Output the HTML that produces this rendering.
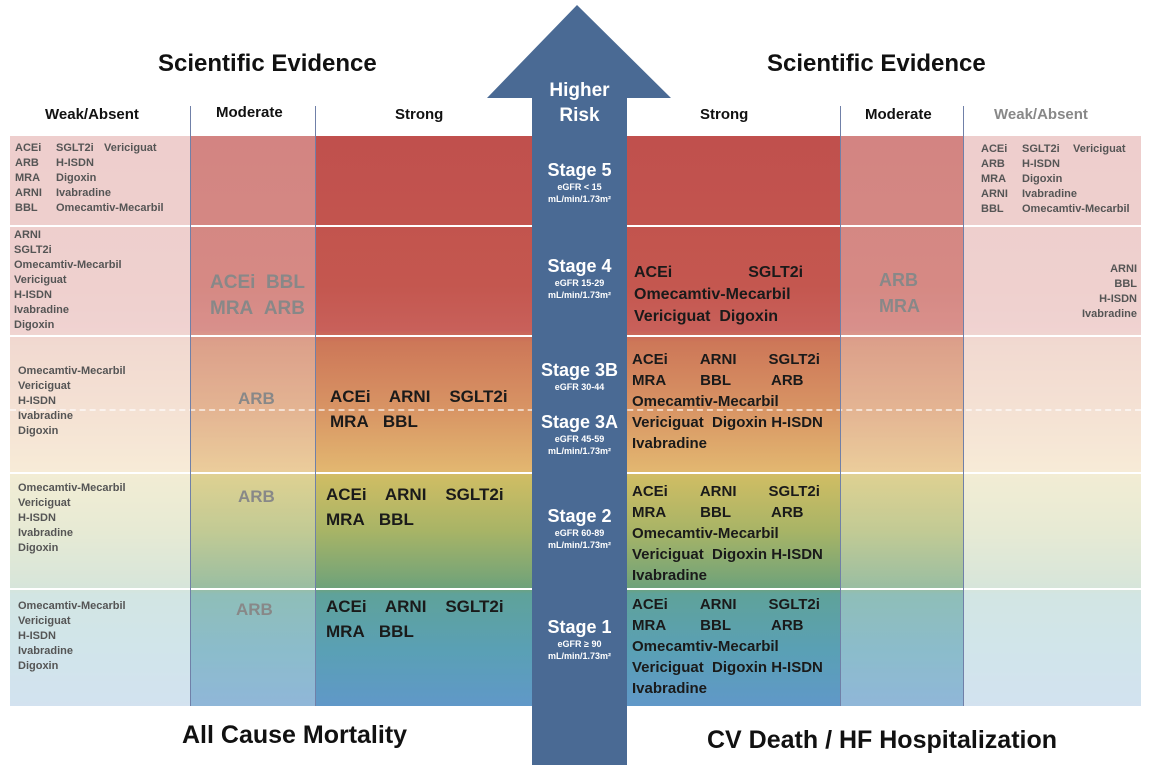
<!DOCTYPE html>
<html><head><meta charset="utf-8"><style>
body{margin:0;width:1154px;height:765px;background:#fff;position:relative;overflow:hidden;font-family:"Liberation Sans",sans-serif;font-weight:bold}
.a{position:absolute}
.grad{position:absolute;top:136px;height:570px;background:linear-gradient(to bottom,#c0504d 0px,#c4574f 150px,#c8605a 194px,#cd7758 206px,#d89464 273px,#e2b670 334px,#cfbd64 340px,#a8b466 395px,#6ea27a 452px,#5fa29a 458px,#5aa0b5 515px,#6098c8 570px)}
.w{position:absolute;top:136px;height:570px;background:#fff}
.sep{position:absolute;height:2px;background:#fff;left:0;width:1154px}
.vl{position:absolute;top:106px;height:600px;width:1px;background:#7080a8}
.t{position:absolute;white-space:nowrap}
.wk{font-size:11px;color:#555;line-height:15px}
.st{font-size:17px;color:#1a1a1a;line-height:25px}
.md{font-size:19px;color:#888;line-height:26px}
.hd{font-size:15px;color:#111}
.sg{position:absolute;left:532px;width:95px;text-align:center;color:#fff}
.sg b{display:block;font-size:18px}
.sg i{display:block;font-style:normal;font-size:9px;line-height:12px}
</style></head><body>
<div class="grad" style="left:10px;width:522px"></div>
<div class="grad" style="left:627px;width:514px"></div>
<div class="w" style="left:10px;width:180px;opacity:.72"></div>
<div class="w" style="left:190px;width:125px;opacity:.3"></div>
<div class="w" style="left:840px;width:123px;opacity:.3"></div>
<div class="w" style="left:963px;width:178px;opacity:.72"></div>
<div class="sep" style="top:225px"></div>
<div class="sep" style="top:335px"></div>
<div class="sep" style="top:472px"></div>
<div class="sep" style="top:588px"></div>
<div class="a" style="left:10px;top:409px;width:1131px;border-top:2px dashed rgba(255,255,255,.6)"></div>
<div class="vl" style="left:190px"></div><div class="vl" style="left:315px"></div>
<div class="vl" style="left:840px"></div><div class="vl" style="left:963px"></div>
<svg class="a" style="left:0;top:0" width="1154" height="765"><polygon points="577,5 671,98 627,98 627,765 532,765 532,98 487,98" fill="#4a6a94"/></svg>
<div class="t" style="left:158px;top:50px;font-size:24px;color:#111">Scientific Evidence</div>
<div class="t" style="left:767px;top:50px;font-size:24px;color:#111">Scientific Evidence</div>
<div class="t hd" style="left:45px;top:106px">Weak/Absent</div>
<div class="t hd" style="left:216px;top:104px">Moderate</div>
<div class="t hd" style="left:395px;top:106px">Strong</div>
<div class="t hd" style="left:700px;top:106px">Strong</div>
<div class="t hd" style="left:865px;top:106px">Moderate</div>
<div class="t hd" style="left:994px;top:106px;color:#888">Weak/Absent</div>
<div class="sg" style="top:78px;font-size:19px;line-height:25px">Higher<br>Risk</div>
<div class="sg" style="top:160px"><b>Stage 5</b><i>eGFR &lt; 15<br>mL/min/1.73m²</i></div>
<div class="sg" style="top:256px"><b>Stage 4</b><i>eGFR 15-29<br>mL/min/1.73m²</i></div>
<div class="sg" style="top:360px"><b>Stage 3B</b><i>eGFR 30-44</i></div>
<div class="sg" style="top:412px"><b>Stage 3A</b><i>eGFR 45-59<br>mL/min/1.73m²</i></div>
<div class="sg" style="top:506px"><b>Stage 2</b><i>eGFR 60-89<br>mL/min/1.73m²</i></div>
<div class="sg" style="top:617px"><b>Stage 1</b><i>eGFR ≥ 90<br>mL/min/1.73m²</i></div>
<div class="t wk" style="left:15px;top:141px">ACEi<br>ARB<br>MRA<br>ARNI<br>BBL</div>
<div class="t wk" style="left:56px;top:141px">SGLT2i<br>H-ISDN<br>Digoxin<br>Ivabradine<br>Omecamtiv-Mecarbil</div>
<div class="t wk" style="left:104px;top:141px">Vericiguat</div>
<div class="t wk" style="left:14px;top:228px">ARNI<br>SGLT2i<br>Omecamtiv-Mecarbil<br>Vericiguat<br>H-ISDN<br>Ivabradine<br>Digoxin</div>
<div class="t wk" style="left:18px;top:364px">Omecamtiv-Mecarbil<br>Vericiguat<br>H-ISDN<br>Ivabradine<br>Digoxin</div>
<div class="t wk" style="left:18px;top:481px">Omecamtiv-Mecarbil<br>Vericiguat<br>H-ISDN<br>Ivabradine<br>Digoxin</div>
<div class="t wk" style="left:18px;top:599px">Omecamtiv-Mecarbil<br>Vericiguat<br>H-ISDN<br>Ivabradine<br>Digoxin</div>
<div class="t md" style="left:210px;top:270px">ACEi&nbsp;&nbsp;BBL<br>MRA&nbsp;&nbsp;ARB</div>
<div class="t md" style="left:238px;top:386px;font-size:17px">ARB</div>
<div class="t md" style="left:238px;top:484px;font-size:17px">ARB</div>
<div class="t md" style="left:236px;top:597px;font-size:17px">ARB</div>
<div class="t st" style="left:330px;top:384px">ACEi&nbsp;&nbsp;&nbsp; ARNI&nbsp;&nbsp;&nbsp; SGLT2i<br>MRA&nbsp;&nbsp;&nbsp;BBL</div>
<div class="t st" style="left:326px;top:482px">ACEi&nbsp;&nbsp;&nbsp; ARNI&nbsp;&nbsp;&nbsp; SGLT2i<br>MRA&nbsp;&nbsp;&nbsp;BBL</div>
<div class="t st" style="left:326px;top:594px">ACEi&nbsp;&nbsp;&nbsp; ARNI&nbsp;&nbsp;&nbsp; SGLT2i<br>MRA&nbsp;&nbsp;&nbsp;BBL</div>
<div class="t st" style="left:634px;top:262px;font-size:16px;line-height:22px">ACEi<span style="margin-left:76px">SGLT2i</span><br>Omecamtiv-Mecarbil<br>Vericiguat&nbsp; Digoxin</div>
<div class="t st" style="left:632px;top:349px;font-size:15px;line-height:21px">ACEi<span style="margin-left:32px">ARNI</span><span style="margin-left:32px">SGLT2i</span><br>MRA<span style="margin-left:34px">BBL</span><span style="margin-left:40px">ARB</span><br>Omecamtiv-Mecarbil<br>Vericiguat&nbsp; Digoxin H-ISDN<br>Ivabradine</div>
<div class="t st" style="left:632px;top:481px;font-size:15px;line-height:21px">ACEi<span style="margin-left:32px">ARNI</span><span style="margin-left:32px">SGLT2i</span><br>MRA<span style="margin-left:34px">BBL</span><span style="margin-left:40px">ARB</span><br>Omecamtiv-Mecarbil<br>Vericiguat&nbsp; Digoxin H-ISDN<br>Ivabradine</div>
<div class="t st" style="left:632px;top:594px;font-size:15px;line-height:21px">ACEi<span style="margin-left:32px">ARNI</span><span style="margin-left:32px">SGLT2i</span><br>MRA<span style="margin-left:34px">BBL</span><span style="margin-left:40px">ARB</span><br>Omecamtiv-Mecarbil<br>Vericiguat&nbsp; Digoxin H-ISDN<br>Ivabradine</div>
<div class="t md" style="left:879px;top:267px;font-size:18px">ARB<br>MRA</div>
<div class="t wk" style="left:981px;top:142px">ACEi<br>ARB<br>MRA<br>ARNI<br>BBL</div>
<div class="t wk" style="left:1022px;top:142px">SGLT2i<br>H-ISDN<br>Digoxin<br>Ivabradine<br>Omecamtiv-Mecarbil</div>
<div class="t wk" style="left:1073px;top:142px">Vericiguat</div>
<div class="t wk" style="left:1060px;top:262px;width:77px;text-align:right">ARNI<br>BBL<br>H-ISDN<br>Ivabradine</div>
<div class="t" style="left:182px;top:721px;font-size:25px;color:#111">All Cause Mortality</div>
<div class="t" style="left:707px;top:726px;font-size:25px;color:#111">CV Death / HF Hospitalization</div>
</body></html>
